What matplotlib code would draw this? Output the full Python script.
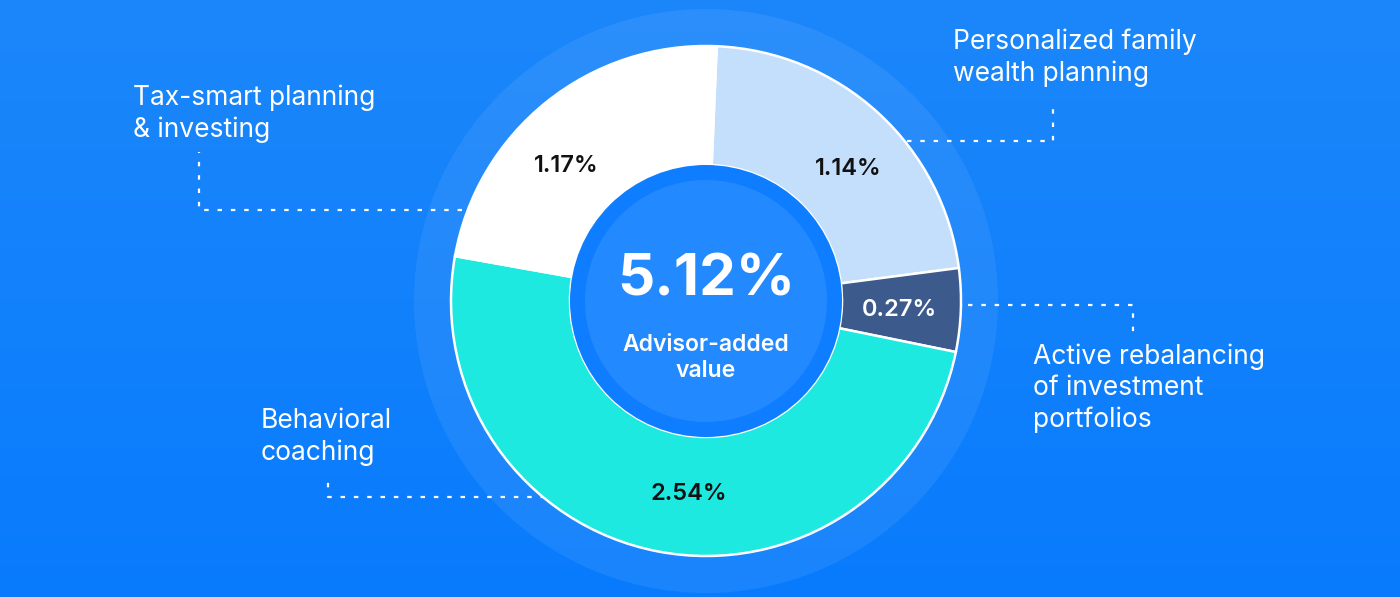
import numpy as np
import matplotlib.pyplot as plt
from matplotlib.patches import Circle

# DATA

categories = [
    "Personalized family\nwealth planning",
    "Active rebalancing\nof investment\nportfolios",
    "Behavioral\ncoaching",
    "Tax-smart planning\n& investing",
]
values = [1.14, 0.27, 2.54, 1.17]
value_labels = ["1.14%", "0.27%", "2.54%", "1.17%"]
total_label = "5.12%"
center_caption = "Advisor-added\nvalue"

# STYLE / LAYOUT

W, H = 1400, 597
CX, CY = 706, H - 301
R_OUT, R_IN = 255, 136
R_HALO, R_CORE = 292, 121

wedge_colors = ["#c3dffb", "#3c5a8c", "#1de9e0", "#ffffff"]
pct_colors = ["#111111", "#ffffff", "#111111", "#111111"]
pct_nudge = [-4.5, -0.5, 5.8, 7.3]   # degrees, label offset from wedge middle

plt.rcParams["font.family"] = ["Inter", "DejaVu Sans"]

fig = plt.figure(figsize=(W / 100, H / 100), dpi=100)
ax = fig.add_axes([0, 0, 1, 1])

# background gradient (lighter top, deeper bottom)
top = np.array([0x1c, 0x87, 0xfa]) / 255
bot = np.array([0x08, 0x7b, 0xfd]) / 255
t = np.linspace(0, 1, 200)[:, None, None]
grad = np.repeat(top * (1 - t) + bot * t, 2, axis=1)
ax.imshow(grad, extent=[0, W, 0, H], origin="upper", aspect="auto", zorder=0)

# halo behind the donut
ax.add_patch(Circle((CX, CY), R_HALO, color="white", alpha=0.07, zorder=1, lw=0))

# donut
wedges, _ = ax.pie(
    values,
    colors=wedge_colors,
    startangle=87.6,
    counterclock=False,
    center=(CX, CY),
    radius=R_OUT,
    wedgeprops=dict(width=R_OUT - R_IN, edgecolor="white", linewidth=1.8),
    frame=True,
)
for w in wedges:
    w.set_zorder(2)

ax.set_xlim(0, W)
ax.set_ylim(0, H)
ax.set_aspect("equal")
ax.axis("off")

# centre disc
ax.add_patch(Circle((CX, CY), R_IN, color="#0f7dff", zorder=3, lw=0))
ax.add_patch(Circle((CX, CY), R_CORE, color="#2389ff", zorder=4, lw=0))

# percentage labels inside each wedge
r_lab = 194
for w, lab, col, nd in zip(wedges, value_labels, pct_colors, pct_nudge):
    ang = np.deg2rad((w.theta1 + w.theta2) / 2 + nd)
    x = CX + r_lab * np.cos(ang)
    y = CY + r_lab * np.sin(ang)
    ax.text(x, y, lab, ha="center", va="center", fontsize=17,
            fontweight="semibold", color=col, zorder=5)

# centre text
ax.text(CX, H - 281, total_label, ha="center", va="center", fontsize=42,
        fontweight="bold", color="white", zorder=5)
ax.text(CX, H - 358, center_caption, ha="center", va="center", fontsize=16.5,
        fontweight="semibold", color="white", linespacing=1.2, zorder=5)

# category labels + dotted leaders (pixel coords, y from top)
label_pos = [(953, 58), (1033, 388), (261, 437), (133, 114)]
leaders = [
    [(907, 141), (1053, 141), (1053, 105)],
    [(968, 305), (1133, 305), (1133, 335)],
    [(545, 497), (328, 497), (328, 474)],
    [(462, 210), (199, 210), (199, 152)],
]
for name, (lx, ly), pts in zip(categories, label_pos, leaders):
    ax.text(lx, H - ly, name, ha="left", va="center", fontsize=19,
            color="white", linespacing=1.27, zorder=5)
    xs = [p[0] for p in pts]
    ys = [H - p[1] for p in pts]
    ax.plot(xs, ys, color="white", lw=1.6, ls=(0, (2, 4)), zorder=1.5)

fig.savefig("out.png", dpi=100)
